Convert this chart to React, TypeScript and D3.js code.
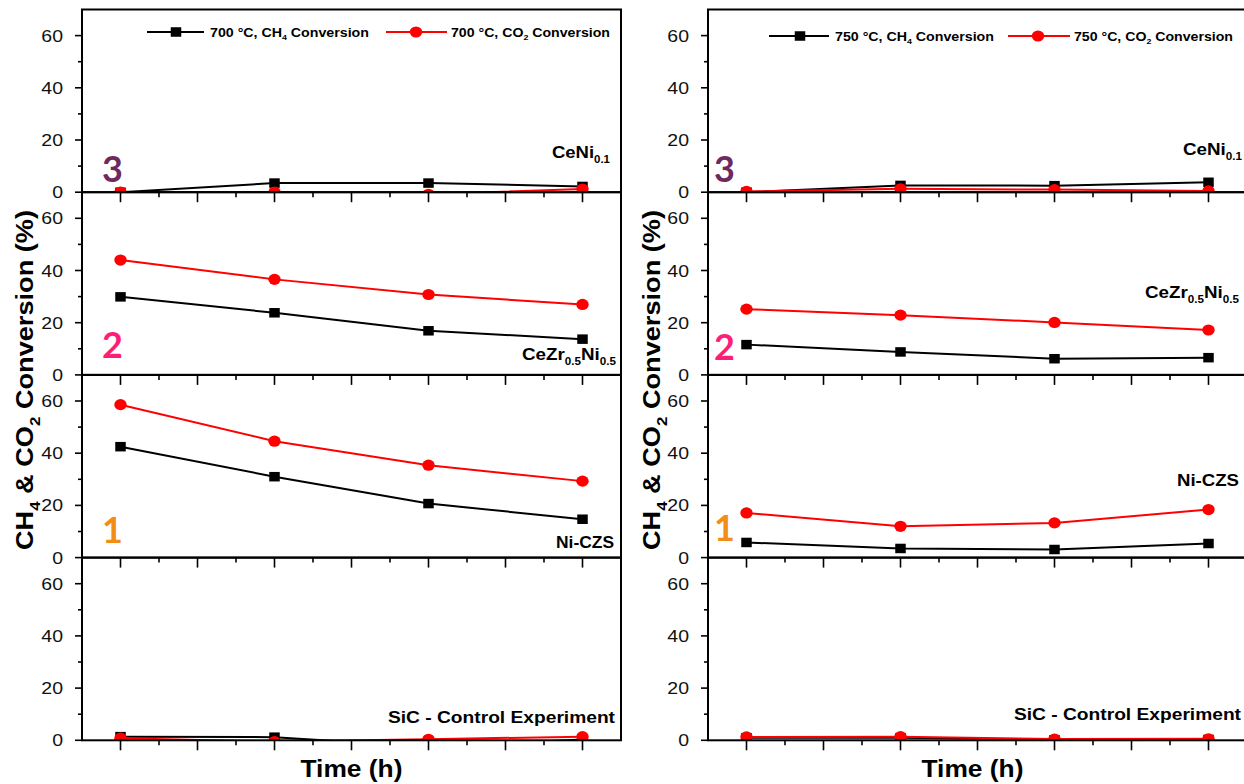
import React from "react";
import * as d3 from "d3";

// Sampling times (h) and axis ticks
const TIMES = [1, 2, 3, 4];
const X_MAJOR = [1, 1.5, 2, 2.5, 3, 3.5, 4];
const X_MINOR = [1.25, 1.75, 2.25, 2.75, 3.25, 3.75];
const Y_MAJOR = [0, 20, 40, 60];
const Y_MINOR = [10, 30, 50];

// 700 °C conversions (%)
const CENI_700_CH4 = [0, 3.5, 3.5, 2.2];
const CENI_700_CO2 = [0, 0, -0.8, 1.2];
const CEZR_700_CH4 = [29.9, 23.8, 16.9, 13.7];
const CEZR_700_CO2 = [44.0, 36.6, 30.8, 27.0];
const NICZS_700_CH4 = [42.5, 31.0, 20.7, 14.7];
const NICZS_700_CO2 = [58.6, 44.6, 35.4, 29.3];
const SIC_700_CH4 = [1.4, 1.2, -2.5, 0.3];
const SIC_700_CO2 = [0.8, -0.5, 0.4, 1.4];

// 750 °C conversions (%)
const CENI_750_CH4 = [0, 2.6, 2.5, 3.8];
const CENI_750_CO2 = [0.3, 1.3, 1.0, 0.5];
const CEZR_750_CH4 = [11.6, 8.8, 6.2, 6.6];
const CEZR_750_CO2 = [25.2, 22.9, 20.1, 17.2];
const NICZS_750_CH4 = [5.8, 3.5, 3.1, 5.4];
const NICZS_750_CO2 = [17.1, 12.0, 13.3, 18.4];
const SIC_750_CH4 = [1.0, 1.0, 0.2, 0.3];
const SIC_750_CO2 = [1.3, 1.4, 0.5, 0.6];

type Seg = [string, boolean];

// Stacked catalysts, top to bottom
const SAMPLE_LABELS: Seg[][] = [
  [["CeNi", false], ["0.1", true]],
  [["CeZr", false], ["0.5", true], ["Ni", false], ["0.5", true]],
  [["Ni-CZS", false]],
  [["SiC - Control Experiment", false]],
];
const SAMPLE_NUMBERS = ["3", "2", "1", ""];
const NUMBER_COLORS = ["#6e2a5f", "#ff1d7a", "#f28d17", "#000"];

const TEMPS = ["700", "750"];
const CH4_SERIES = [
  [CENI_700_CH4, CEZR_700_CH4, NICZS_700_CH4, SIC_700_CH4],
  [CENI_750_CH4, CEZR_750_CH4, NICZS_750_CH4, SIC_750_CH4],
];
const CO2_SERIES = [
  [CENI_700_CO2, CEZR_700_CO2, NICZS_700_CO2, SIC_700_CO2],
  [CENI_750_CO2, CEZR_750_CO2, NICZS_750_CO2, SIC_750_CO2],
];

// ---- layout ----
const W = 1244;
const H = 784;
const PANEL_TOP = 9.5;
const PANEL_H = 182.7;
const COLUMNS = [
  { x0: 82, x1: 621 },
  { x0: 708, x1: 1247 },
];
// label placement: dx = gap from right edge, dy = height of baseline above zero, len = text width
const LABEL_LAYOUT = [
  [
    { dx: 11, dy: 34, len: 58 },
    { dx: 5, dy: 15, len: 94 },
    { dx: 7, dy: 10, len: 58 },
    { dx: 6, dy: 17, len: 227 },
  ],
  [
    { dx: 5, dy: 37, len: 59 },
    { dx: 8, dy: 77, len: 94 },
    { dx: 8, dy: 72, len: 62 },
    { dx: 6, dy: 20, len: 227 },
  ],
];
const NUMBER_LAYOUT = [
  { dx: 20, dy: [10, 17, 15] },
  { dx: 6, dy: [10, 15, 17] },
];
const LEGEND_LAYOUT = [
  { y: 32, ch4: [147, 204, 176, 210], co2: [386, 447, 416, 451] },
  { y: 36, ch4: [769, 829, 800, 835], co2: [1008, 1070, 1038, 1074] },
];

const FONT = "'Liberation Sans', Arial, Helvetica, sans-serif";
const RED = "#ff0000";

function Rich({ segs, size }: { segs: Seg[]; size: number }) {
  let shift = 0;
  return (
    <>
      {segs.map(([t, sub], i) => {
        const target = sub ? size * 0.3 : 0;
        const dy = target - shift;
        shift = target;
        return (
          <tspan key={i} dy={dy} fontSize={sub ? size * 0.62 : size}>
            {t}
          </tspan>
        );
      })}
    </>
  );
}

export default function App() {
  const panelTops = SAMPLE_LABELS.map((_, i) => PANEL_TOP + i * PANEL_H);

  return (
    <svg
      width={W}
      height={H}
      viewBox={`0 0 ${W} ${H}`}
      style={{ position: "absolute", left: 0, top: 0, background: "#fff" }}
      fontFamily={FONT}
    >
      <defs>
        {COLUMNS.map((c, ci) =>
          panelTops.map((top, pi) => (
            <clipPath id={`clip-${ci}-${pi}`} key={`${ci}-${pi}`}>
              <rect x={c.x0} y={top} width={c.x1 - c.x0} height={PANEL_H} />
            </clipPath>
          ))
        )}
      </defs>

      {COLUMNS.map((col, ci) => {
        const x = d3.scaleLinear().domain([0.75, 4.25]).range([col.x0, col.x1]);
        const leg = LEGEND_LAYOUT[ci];
        const temp = TEMPS[ci];
        return (
          <g key={ci}>
            {panelTops.map((top, pi) => {
              const y = d3.scaleLinear().domain([0, 70]).range([top + PANEL_H, top]);
              const zero = y(0);
              const line = d3
                .line<number>()
                .x((_, i) => x(TIMES[i]))
                .y((d) => y(d));
              const ch4 = CH4_SERIES[ci][pi];
              const co2 = CO2_SERIES[ci][pi];
              const lab = LABEL_LAYOUT[ci][pi];
              return (
                <g key={pi}>
                  <g clipPath={`url(#clip-${ci}-${pi})`}>
                    <path d={line(ch4) || ""} fill="none" stroke="#000" strokeWidth={2} />
                    {ch4.map((v, i) => (
                      <rect
                        key={i}
                        x={x(TIMES[i]) - 5.25}
                        y={y(v) - 4.75}
                        width={10.5}
                        height={9.5}
                        fill="#000"
                      />
                    ))}
                    <path d={line(co2) || ""} fill="none" stroke={RED} strokeWidth={2} />
                    {co2.map((v, i) => (
                      <ellipse key={i} cx={x(TIMES[i])} cy={y(v)} rx={6.2} ry={5.6} fill={RED} />
                    ))}
                  </g>
                  <rect
                    x={col.x0}
                    y={top}
                    width={col.x1 - col.x0}
                    height={PANEL_H}
                    fill="none"
                    stroke="#000"
                    strokeWidth={2}
                  />
                  {/* y ticks */}
                  {Y_MAJOR.map((v) => (
                    <g key={`ym${v}`}>
                      <line x1={col.x0} x2={col.x0 - 7} y1={y(v)} y2={y(v)} stroke="#000" strokeWidth={1.6} />
                      <g transform={`translate(${col.x0 - 19},${y(v) + 6}) scale(1.18,1)`}>
                        <text textAnchor="end" fontSize={16.5} fill="#111">
                          {v}
                        </text>
                      </g>
                    </g>
                  ))}
                  {Y_MINOR.map((v) => (
                    <line key={`yn${v}`} x1={col.x0} x2={col.x0 - 4} y1={y(v)} y2={y(v)} stroke="#000" strokeWidth={1.6} />
                  ))}
                  {/* x ticks hang below each panel */}
                  {X_MAJOR.map((v) => (
                    <line key={`xm${v}`} x1={x(v)} x2={x(v)} y1={zero} y2={zero + 10} stroke="#000" strokeWidth={1.6} />
                  ))}
                  {X_MINOR.map((v) => (
                    <line key={`xn${v}`} x1={x(v)} x2={x(v)} y1={zero} y2={zero + 5} stroke="#000" strokeWidth={1.6} />
                  ))}
                  {/* sample label */}
                  <text
                    x={col.x1 - lab.dx - lab.len}
                    y={zero - lab.dy}
                    fontWeight="bold"
                    fontSize={17}
                    textLength={lab.len}
                    lengthAdjust="spacingAndGlyphs"
                    fill="#000"
                  >
                    <Rich segs={SAMPLE_LABELS[pi]} size={17} />
                  </text>
                  {SAMPLE_NUMBERS[pi] && (
                    <text
                      x={col.x0 + NUMBER_LAYOUT[ci].dx}
                      y={zero - NUMBER_LAYOUT[ci].dy[pi]}
                      fontFamily="Lato, 'Open Sans', sans-serif"
                      fontWeight="bold"
                      fontSize={36}
                      fill={NUMBER_COLORS[pi]}
                    >
                      {SAMPLE_NUMBERS[pi]}
                    </text>
                  )}
                </g>
              );
            })}

            {/* legend */}
            <line x1={leg.ch4[0]} x2={leg.ch4[1]} y1={leg.y} y2={leg.y} stroke="#000" strokeWidth={2} />
            <rect x={leg.ch4[2] - 5.25} y={leg.y - 4.75} width={10.5} height={9.5} fill="#000" />
            <text
              x={leg.ch4[3]}
              y={leg.y + 4.5}
              fontWeight="bold"
              fontSize={12.5}
              textLength={159}
              lengthAdjust="spacingAndGlyphs"
            >
              <Rich segs={[[`${temp} °C, CH`, false], ["4", true], [" Conversion", false]]} size={12.5} />
            </text>
            <line x1={leg.co2[0]} x2={leg.co2[1]} y1={leg.y} y2={leg.y} stroke={RED} strokeWidth={2} />
            <ellipse cx={leg.co2[2]} cy={leg.y} rx={6.2} ry={5.6} fill={RED} />
            <text
              x={leg.co2[3]}
              y={leg.y + 4.5}
              fontWeight="bold"
              fontSize={12.5}
              textLength={159}
              lengthAdjust="spacingAndGlyphs"
            >
              <Rich segs={[[`${temp} °C, CO`, false], ["2", true], [" Conversion", false]]} size={12.5} />
            </text>

            {/* axis titles */}
            <text
              x={(col.x0 + Math.min(col.x1, 1243)) / 2 - 51 - (ci === 1 ? 3 : 0)}
              y={777}
              fontWeight="bold"
              fontSize={23}
              textLength={102}
              lengthAdjust="spacingAndGlyphs"
            >
              Time (h)
            </text>
            <g transform={`translate(${ci === 0 ? 33 : 660},550) rotate(-90)`}>
              <text
                x={0}
                y={0}
                fontWeight="bold"
                fontSize={24}
                textLength={340}
                lengthAdjust="spacingAndGlyphs"
              >
                <Rich
                  segs={[
                    ["CH", false],
                    ["4", true],
                    [" & CO", false],
                    ["2", true],
                    [" Conversion (%)", false],
                  ]}
                  size={24}
                />
              </text>
            </g>
          </g>
        );
      })}
    </svg>
  );
}
